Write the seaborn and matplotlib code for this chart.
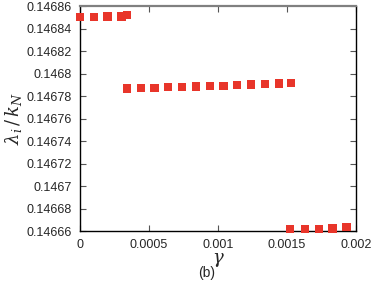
import numpy as np
import pandas as pd
import seaborn as sns
import matplotlib.pyplot as plt

# gamma values and lambda_i / k_N for the three branches
gamma_top = [0.0, 0.0001, 0.0002, 0.0003, 0.00034]
lam_top = [0.1468505, 0.1468505, 0.1468506, 0.1468507, 0.1468522]

gamma_mid = [0.00034, 0.00044, 0.00054, 0.00064, 0.00074, 0.00084, 0.00094,
             0.00104, 0.00114, 0.00124, 0.00134, 0.00144, 0.00153]
lam_mid = [0.1467868, 0.1467870, 0.1467873, 0.1467879, 0.1467882, 0.1467885,
           0.1467888, 0.1467890, 0.1467896, 0.1467902, 0.1467905, 0.1467911, 0.1467918]

gamma_bot = [0.00152, 0.00163, 0.00173, 0.00183, 0.00193]
lam_bot = [0.1466618, 0.1466618, 0.1466619, 0.1466621, 0.1466633]

xticks = [0, 0.0005, 0.001, 0.0015, 0.002]
xtick_labels = ['0', '0.0005', '0.001', '0.0015', '0.002']
yticks = [0.14666, 0.14668, 0.1467, 0.14672, 0.14674, 0.14676, 0.14678,
          0.1468, 0.14682, 0.14684, 0.14686]
ytick_labels = ['0.14666', '0.14668', '0.1467', '0.14672', '0.14674', '0.14676',
                '0.14678', '0.1468', '0.14682', '0.14684', '0.14686']

df = pd.DataFrame({
    'gamma': gamma_top + gamma_mid + gamma_bot,
    'lam': lam_top + lam_mid + lam_bot,
})

sns.set_style('ticks')
plt.rcParams['font.family'] = ['Liberation Sans', 'DejaVu Sans']
plt.rcParams['mathtext.fontset'] = 'dejavuserif'

fig = plt.figure(figsize=(3.82, 2.86), dpi=100)
ax = fig.add_axes([0.2094, 0.1923, 0.7226, 0.7867])

sns.scatterplot(data=df, x='gamma', y='lam', marker='s', s=36, color='#e8352a',
                edgecolor='none', ax=ax, clip_on=False, zorder=5)

ax.set_xlim(0, 0.002)
ax.set_ylim(0.14666, 0.14686)
ax.set_xticks(xticks)
ax.set_xticklabels(xtick_labels)
ax.set_yticks(yticks)
ax.set_yticklabels(ytick_labels)
ax.tick_params(direction='in', length=4, width=0.8, labelsize=9, color='#555555',
               top=True, right=True, pad=6)

for side in ['left', 'bottom', 'right']:
    ax.spines[side].set_color('black')
    ax.spines[side].set_linewidth(1.0)
ax.spines['top'].set_color('#808080')
ax.spines['top'].set_linewidth(1.6)

ax.set_xlabel(r'$\gamma$', fontsize=13, labelpad=0)
ax.set_ylabel(r'$\lambda_i\,/\,k_N$', fontsize=13, labelpad=2)
fig.text(0.542, 0.045, '(b)', ha='center', va='center', fontsize=10)

fig.savefig('out.png', dpi=100)
